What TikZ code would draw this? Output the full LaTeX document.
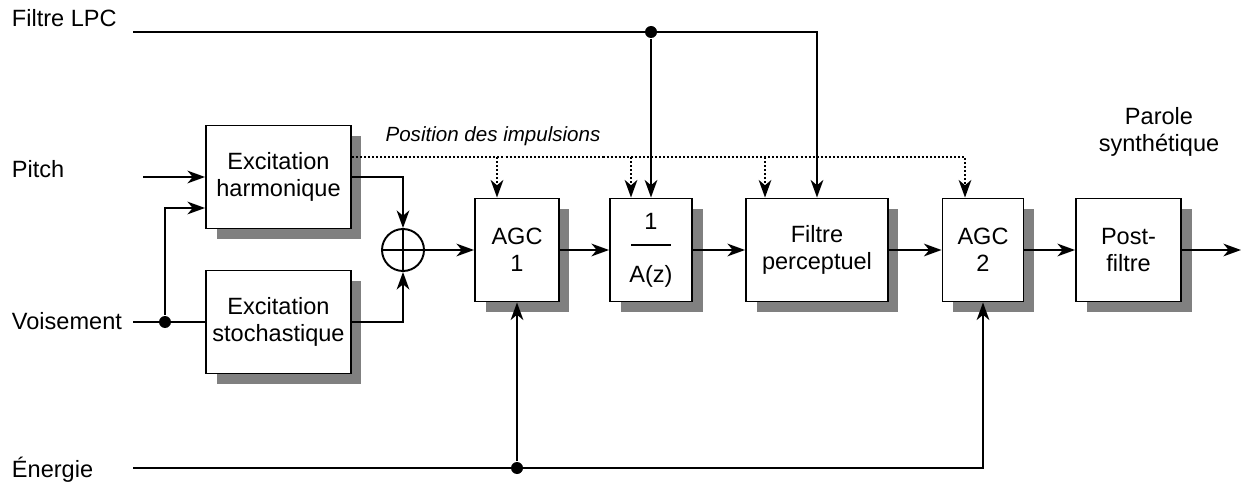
\documentclass[tikz,border=0pt]{standalone}
\usepackage{fontspec}
\setmainfont{Liberation Sans}
\usepackage{xcolor}
\definecolor{cs}{HTML}{808080}
\usetikzlibrary{arrows.meta,shadows}

\begin{document}
\begin{tikzpicture}[
  x=0.02cm, y=-0.02cm, >={Stealth[length=10pt,width=7.2pt,inset=3pt]},
  line width=1.1pt, font=\fontsize{13.4}{15.3}\selectfont,
  blk/.style={draw, fill=white, align=center, inner sep=0pt, minimum height=2.06cm,
    drop shadow={shadow xshift=0.21cm, shadow yshift=-0.21cm, fill=cs, opacity=1}},
  adder/.style={circle, draw, minimum size=0.84cm, inner sep=0pt,
    path picture={\draw (path picture bounding box.north) -- (path picture bounding box.south)
      (path picture bounding box.west) -- (path picture bounding box.east);}},
  lbl/.style={anchor=base west, inner sep=0pt},
  pulse/.style={->, dash pattern=on 1.15pt off 1.15pt},
  jct/.style={circle, fill, inner sep=0pt, minimum size=0.24cm},
]
  \useasboundingbox (0,0) rectangle (1243,486);

  \node[blk, minimum width=2.9cm] (harm) at (278.5,177) {Excitation\\harmonique};
  \node[blk, minimum width=2.9cm] (stoch) at (278.5,322) {Excitation\\stochastique};
  \node[adder] (sum) at (403,250) {};
  \node[blk, minimum width=1.68cm] (agc1) at (517,250) {AGC\\1};
  \node[blk, minimum width=1.64cm] (ainv) at (651,250) {1\\[-6pt]\rule{0.8cm}{1.1pt}\\[5.4pt]A(z)};
  \node[blk, minimum width=2.84cm] (filt) at (817,250) {Filtre\\perceptuel};
  \node[blk, minimum width=1.62cm] (agc2) at (983,250) {AGC\\2};
  \node[blk, minimum width=2.1cm] (post) at (1128.5,250) {Post-\\filtre};

  \node[lbl] (lpc) at (11,27) {Filtre LPC};
  \node[lbl] (pitch) at (11,177) {Pitch};
  \node[lbl] (vois) at (11,329) {Voisement};
  \node[lbl] (ener) at (11,477) {Énergie};
  \node[align=center, inner sep=0pt] (out) at (1159,132) {Parole\\synthétique};
  \node[anchor=base, inner sep=0pt, font=\fontsize{11.7}{14}\selectfont\itshape] (imp)
    at (493,142) {Position des impulsions};

  \coordinate (lpc0) at (133,32);
  \coordinate (pitch0) at (143,177);
  \coordinate (vois0) at (133,322);
  \coordinate (ener0) at (133,468);
  \coordinate (bus) at (0,157);
  \coordinate (out0) at (1241,250);

  \node[jct] (jl) at (ainv.north |- lpc0) {};
  \node[jct] (jv) at (165,322) {};
  \node[jct] (je) at (agc1.south |- ener0) {};

  \draw[->] (lpc0) -| (filt.north);
  \draw[->] (jl) -- (ainv.north);
  \draw[->] (pitch0) -- (harm.west);
  \draw (vois0) -- (stoch.west);
  \draw[->] (jv) |- ([yshift=-0.62cm]harm.west);
  \draw[->] (harm.east) -| (sum.north);
  \draw[->] (stoch.east) -| (sum.south);
  \draw[->] (sum) -- (agc1);
  \draw[->] (agc1) -- (ainv);
  \draw[->] (ainv) -- (filt);
  \draw[->] (filt) -- (agc2);
  \draw[->] (agc2) -- (post);
  \draw[->] (post) -- (out0);
  \draw[->] (ener0) -| (agc2.south);
  \draw[->] (je) -- (agc1.south);

  \draw[pulse] (harm.east |- bus) -| ([xshift=-0.36cm]agc2.north);
  \foreach \n/\d in {agc1/-0.4cm, ainv/-0.4cm, filt/-1.04cm}
    \draw[pulse] ([xshift=\d]\n.north |- bus) -- ([xshift=\d]\n.north);
\end{tikzpicture}
\end{document}
